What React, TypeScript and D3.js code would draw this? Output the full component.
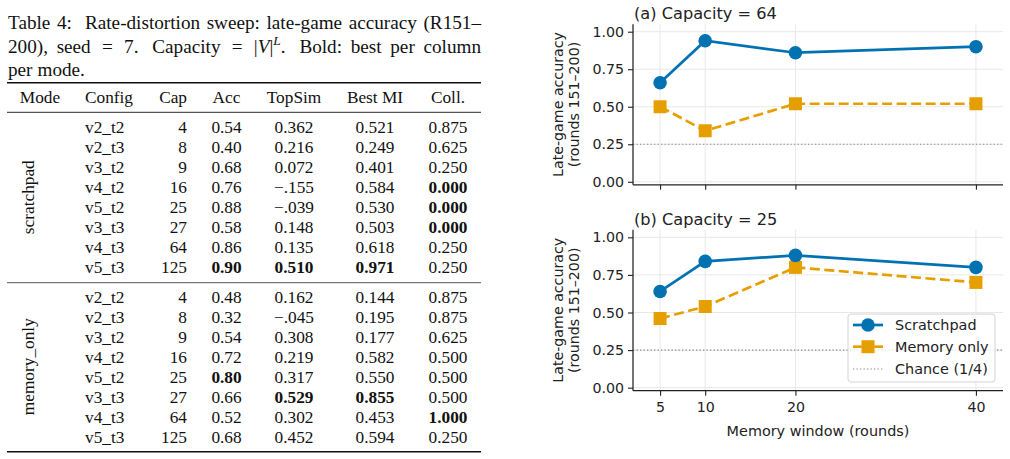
import { useRef, useEffect } from 'react';
import * as d3 from 'd3';

const WIDTH = 1010;
const HEIGHT = 459;
const SERIF = '"Liberation Serif", "Times New Roman", serif';
const SANS = '"DejaVu Sans", sans-serif';
const BLUE = '#0072B2';
const ORANGE = '#E69F00';
const INK = '#222';

// ---- table data ----
const configs = ['v2_t2', 'v2_t3', 'v3_t2', 'v4_t2', 'v5_t2', 'v3_t3', 'v4_t3', 'v5_t3'];
const caps = [4, 8, 9, 16, 25, 27, 64, 125];

const spAcc = [0.54, 0.40, 0.68, 0.76, 0.88, 0.58, 0.86, 0.90];
const spTopSim = [0.362, 0.216, 0.072, -0.155, -0.039, 0.148, 0.135, 0.510];
const spMI = [0.521, 0.249, 0.401, 0.584, 0.530, 0.503, 0.618, 0.971];
const spColl = [0.875, 0.625, 0.250, 0.000, 0.000, 0.000, 0.250, 0.250];

const moAcc = [0.48, 0.32, 0.54, 0.72, 0.80, 0.66, 0.52, 0.68];
const moTopSim = [0.162, -0.045, 0.308, 0.219, 0.317, 0.529, 0.302, 0.452];
const moMI = [0.144, 0.195, 0.177, 0.582, 0.550, 0.855, 0.453, 0.594];
const moColl = [0.875, 0.875, 0.625, 0.500, 0.500, 0.500, 1.000, 0.250];

// row indices set in bold, per column
const spBold = { acc: [7], topsim: [7], mi: [7], coll: [3, 4, 5] };
const moBold = { acc: [4], topsim: [5], mi: [5], coll: [6] };

// ---- chart data ----
const windows = [5, 10, 20, 40];
const scratch64 = [0.66, 0.94, 0.86, 0.90];
const memory64 = [0.50, 0.34, 0.52, 0.52];
const scratch25 = [0.64, 0.84, 0.88, 0.80];
const memory25 = [0.46, 0.54, 0.80, 0.70];
const yTicks = [0, 0.25, 0.5, 0.75, 1.0];
const CHANCE = 0.25;

type Seg = { t: string; it?: boolean; sup?: boolean };

const captionLines: { words: Seg[][]; gaps?: number[]; justify: boolean }[] = [
  {
    words: [[{ t: 'Table' }], [{ t: '4:' }], [{ t: 'Rate-distortion' }], [{ t: 'sweep:' }],
      [{ t: 'late-game' }], [{ t: 'accuracy' }], [{ t: '(R151–' }]],
    gaps: [1, 2, 1, 1, 1, 1],
    justify: true,
  },
  {
    words: [[{ t: '200),' }], [{ t: 'seed' }], [{ t: '=' }], [{ t: '7.' }], [{ t: 'Capacity' }],
      [{ t: '=' }], [{ t: '|' }, { t: 'V', it: true }, { t: '|' }, { t: 'L', it: true, sup: true }, { t: '.' }],
      [{ t: 'Bold:' }], [{ t: 'best' }], [{ t: 'per' }], [{ t: 'column' }]],
    gaps: [1, 1.3, 1.3, 1.6, 1.3, 1.3, 1.6, 1, 1, 1],
    justify: true,
  },
  { words: [[{ t: 'per' }], [{ t: 'mode.' }]], justify: false },
];

function fmtSim(v: number) {
  if (v < 0) return '−' + Math.abs(v).toFixed(3).slice(1);
  return v.toFixed(3);
}

function App() {
  const svgRef = useRef<SVGSVGElement>(null);

  useEffect(() => {
    const svg = d3.select(svgRef.current);
    svg.selectAll('*').remove();

    // ================= caption =================
    const capFs = 19.2;
    const capX0 = 8;
    const capX1 = 481;
    captionLines.forEach((line, li) => {
      const baseline = 29 + li * 23.6;
      const nodes = line.words.map(segs => {
        const t = svg.append('text')
          .attr('y', baseline)
          .attr('font-family', SERIF)
          .attr('font-size', capFs)
          .attr('fill', '#111');
        let raised = false;
        segs.forEach(s => {
          const ts = t.append('tspan').text(s.t);
          if (s.it) ts.attr('font-style', 'italic');
          if (s.sup) {
            ts.attr('font-size', capFs * 0.7).attr('dy', -7.5);
            raised = true;
          } else if (raised) {
            ts.attr('dy', 7.5);
            raised = false;
          }
        });
        return t;
      });
      const widths = nodes.map(n => (n.node() as SVGTextElement).getComputedTextLength());
      const total = d3.sum(widths);
      const gaps = line.gaps || d3.range(nodes.length - 1).map(() => 1);
      const unit = line.justify ? (capX1 - capX0 - total) / d3.sum(gaps) : capFs * 0.26;
      let x = capX0;
      nodes.forEach((n, i) => {
        n.attr('x', x);
        x += widths[i] + (i < gaps.length ? gaps[i] * unit : 0);
      });
    });

    // ================= table =================
    const tblFs = 17.3;
    const tbl = svg.append('g').attr('font-family', SERIF).attr('font-size', tblFs).attr('fill', '#111');
    const rule = (y: number, w: number, c = '#111') =>
      tbl.append('line').attr('x1', 7).attr('x2', 481).attr('y1', y).attr('y2', y)
        .attr('stroke', c).attr('stroke-width', w);
    rule(82.7, 1.4);
    rule(112.3, 0.9);
    rule(282.7, 0.9, '#444');
    rule(451.7, 1.4);

    const cols = [
      { key: 'mode', x: 40, anchor: 'middle', head: 'Mode' },
      { key: 'config', x: 85, anchor: 'start', head: 'Config' },
      { key: 'cap', x: 187, anchor: 'end', head: 'Cap' },
      { key: 'acc', x: 226.5, anchor: 'middle', head: 'Acc' },
      { key: 'topsim', x: 294, anchor: 'middle', head: 'TopSim' },
      { key: 'mi', x: 375, anchor: 'middle', head: 'Best MI' },
      { key: 'coll', x: 448, anchor: 'middle', head: 'Coll.' },
    ];
    cols.forEach(c => {
      tbl.append('text').attr('x', c.x).attr('y', 97 + 6).attr('text-anchor', c.anchor).text(c.head);
    });

    const blocks = [
      { mode: 'scratchpad', top: 127.3, acc: spAcc, topsim: spTopSim, mi: spMI, coll: spColl, bold: spBold },
      { mode: 'memory_only', top: 296.8, acc: moAcc, topsim: moTopSim, mi: moMI, coll: moColl, bold: moBold },
    ];
    const rowH = 19.97;
    blocks.forEach(b => {
      const rowY = (i: number) => b.top + i * rowH + 6;
      const mid = b.top + (configs.length - 1) * rowH / 2;
      tbl.append('text')
        .attr('transform', `translate(${28 + 6},${mid}) rotate(-90)`)
        .attr('text-anchor', 'middle')
        .text(b.mode);
      configs.forEach((cfg, i) => {
        const cells: Record<string, string> = {
          config: cfg,
          cap: String(caps[i]),
          acc: b.acc[i].toFixed(2),
          topsim: fmtSim(b.topsim[i]),
          mi: b.mi[i].toFixed(3),
          coll: b.coll[i].toFixed(3),
        };
        cols.slice(1).forEach(c => {
          const boldSet = (b.bold as Record<string, number[]>)[c.key] || [];
          tbl.append('text')
            .attr('x', c.x)
            .attr('y', rowY(i))
            .attr('text-anchor', c.anchor)
            .attr('font-weight', boldSet.includes(i) ? 700 : 400)
            .text(cells[c.key]);
        });
      });
    });

    // ================= charts =================
    const x = d3.scaleLinear().domain([2, 43]).range([633, 1003]);
    const panels = [
      { title: '(a) Capacity = 64', top: 24.2, bottom: 184.8, scratch: scratch64, memory: memory64, xLabels: false, legend: false },
      { title: '(b) Capacity = 25', top: 229.8, bottom: 390.7, scratch: scratch25, memory: memory25, xLabels: true, legend: true },
    ];

    panels.forEach(p => {
      const y = d3.scaleLinear().domain([-0.02, 1.05]).range([p.bottom, p.top]);
      const g = svg.append('g').attr('font-family', SANS);

      // grid
      g.append('g').selectAll('line').data(yTicks).join('line')
        .attr('x1', x.range()[0]).attr('x2', x.range()[1])
        .attr('y1', d => y(d)).attr('y2', d => y(d))
        .attr('stroke', '#e8e8e8').attr('stroke-width', 1);
      g.append('g').selectAll('line').data(windows).join('line')
        .attr('x1', d => x(d)).attr('x2', d => x(d))
        .attr('y1', p.top).attr('y2', p.bottom)
        .attr('stroke', '#e8e8e8').attr('stroke-width', 1);

      // chance level
      g.append('line')
        .attr('x1', x.range()[0]).attr('x2', x.range()[1])
        .attr('y1', y(CHANCE)).attr('y2', y(CHANCE))
        .attr('stroke', '#888').attr('stroke-width', 1.1).attr('stroke-dasharray', '1.3,2.2');

      // y axis
      g.append('g')
        .attr('transform', `translate(${x.range()[0]},0)`)
        .call(d3.axisLeft(y).tickValues(yTicks).tickSize(5).tickPadding(4).tickFormat(d3.format('.2f')))
        .call(a => a.select('.domain').attr('stroke', INK).attr('stroke-width', 1.25).attr('d', `M0,${p.top}V${p.bottom}`))
        .call(a => a.selectAll('.tick line').attr('stroke', INK).attr('stroke-width', 1.1))
        .call(a => a.selectAll('.tick text').attr('fill', INK).attr('font-size', 14.2).attr('font-family', SANS));

      // x axis
      g.append('g')
        .attr('transform', `translate(0,${p.bottom})`)
        .call(d3.axisBottom(x).tickValues(windows).tickSize(5).tickPadding(6)
          .tickFormat(p.xLabels ? (d => String(d)) : () => ''))
        .call(a => a.select('.domain').attr('stroke', INK).attr('stroke-width', 1.25).attr('d', `M${x.range()[0]},0H${x.range()[1]}`))
        .call(a => a.selectAll('.tick line').attr('stroke', INK).attr('stroke-width', 1.1))
        .call(a => a.selectAll('.tick text').attr('fill', INK).attr('font-size', 14.2).attr('font-family', SANS));

      // title
      g.append('text')
        .attr('x', x.range()[0] + 1).attr('y', p.top - 5)
        .attr('font-size', 16.2).attr('fill', INK)
        .text(p.title);

      // y label
      const cy = (p.top + p.bottom) / 2;
      ['Late-game accuracy', '(rounds 151–200)'].forEach((s, i) => {
        g.append('text')
          .attr('transform', `translate(${563 + i * 15.5},${cy}) rotate(-90)`)
          .attr('text-anchor', 'middle')
          .attr('font-size', 14.2).attr('fill', INK)
          .text(s);
      });

      const line = d3.line<number>().x((_, i) => x(windows[i])).y(d => y(d));

      // memory only
      g.append('path').datum(p.memory).attr('d', line)
        .attr('fill', 'none').attr('stroke', ORANGE).attr('stroke-width', 2.7)
        .attr('stroke-dasharray', '10,4.5');
      g.append('g').selectAll('rect').data(p.memory).join('rect')
        .attr('x', (_, i) => x(windows[i]) - 6.5).attr('y', d => y(d) - 6.5)
        .attr('width', 13).attr('height', 13).attr('fill', ORANGE);

      // scratchpad
      g.append('path').datum(p.scratch).attr('d', line)
        .attr('fill', 'none').attr('stroke', BLUE).attr('stroke-width', 2.7);
      g.append('g').selectAll('circle').data(p.scratch).join('circle')
        .attr('cx', (_, i) => x(windows[i])).attr('cy', d => y(d))
        .attr('r', 6.8).attr('fill', BLUE);

      if (p.xLabels) {
        g.append('text')
          .attr('x', (x.range()[0] + x.range()[1]) / 2).attr('y', 435.5)
          .attr('text-anchor', 'middle').attr('font-size', 14.4).attr('fill', INK)
          .text('Memory window (rounds)');
      }

      if (p.legend) {
        const lg = g.append('g');
        lg.append('rect')
          .attr('x', 848).attr('y', 314).attr('width', 147).attr('height', 68)
          .attr('rx', 3).attr('fill', '#fff').attr('fill-opacity', 0.8)
          .attr('stroke', '#d4d4d4').attr('stroke-width', 1);
        const items = [
          { label: 'Scratchpad', kind: 'circle', cy: 325 },
          { label: 'Memory only', kind: 'square', cy: 346.7 },
          { label: 'Chance (1/4)', kind: 'dotted', cy: 369 },
        ];
        items.forEach(it => {
          if (it.kind === 'dotted') {
            lg.append('line').attr('x1', 853).attr('x2', 883).attr('y1', it.cy).attr('y2', it.cy)
              .attr('stroke', '#888').attr('stroke-width', 1.1).attr('stroke-dasharray', '1.3,2.2');
          } else {
            const c = it.kind === 'circle' ? BLUE : ORANGE;
            lg.append('line').attr('x1', 853).attr('x2', 883).attr('y1', it.cy).attr('y2', it.cy)
              .attr('stroke', c).attr('stroke-width', 2.7);
            if (it.kind === 'circle') {
              lg.append('circle').attr('cx', 868).attr('cy', it.cy).attr('r', 6.8).attr('fill', c);
            } else {
              lg.append('rect').attr('x', 861.5).attr('y', it.cy - 6.5).attr('width', 13).attr('height', 13).attr('fill', c);
            }
          }
          lg.append('text').attr('x', 895).attr('y', it.cy + 5)
            .attr('font-size', 14.4).attr('fill', INK).text(it.label);
        });
      }
    });
  }, []);

  return (
    <svg
      ref={svgRef}
      width={WIDTH}
      height={HEIGHT}
      viewBox={`0 0 ${WIDTH} ${HEIGHT}`}
      style={{ position: 'absolute', left: 0, top: 0, background: '#fff' }}
    />
  );
}

export default App;
